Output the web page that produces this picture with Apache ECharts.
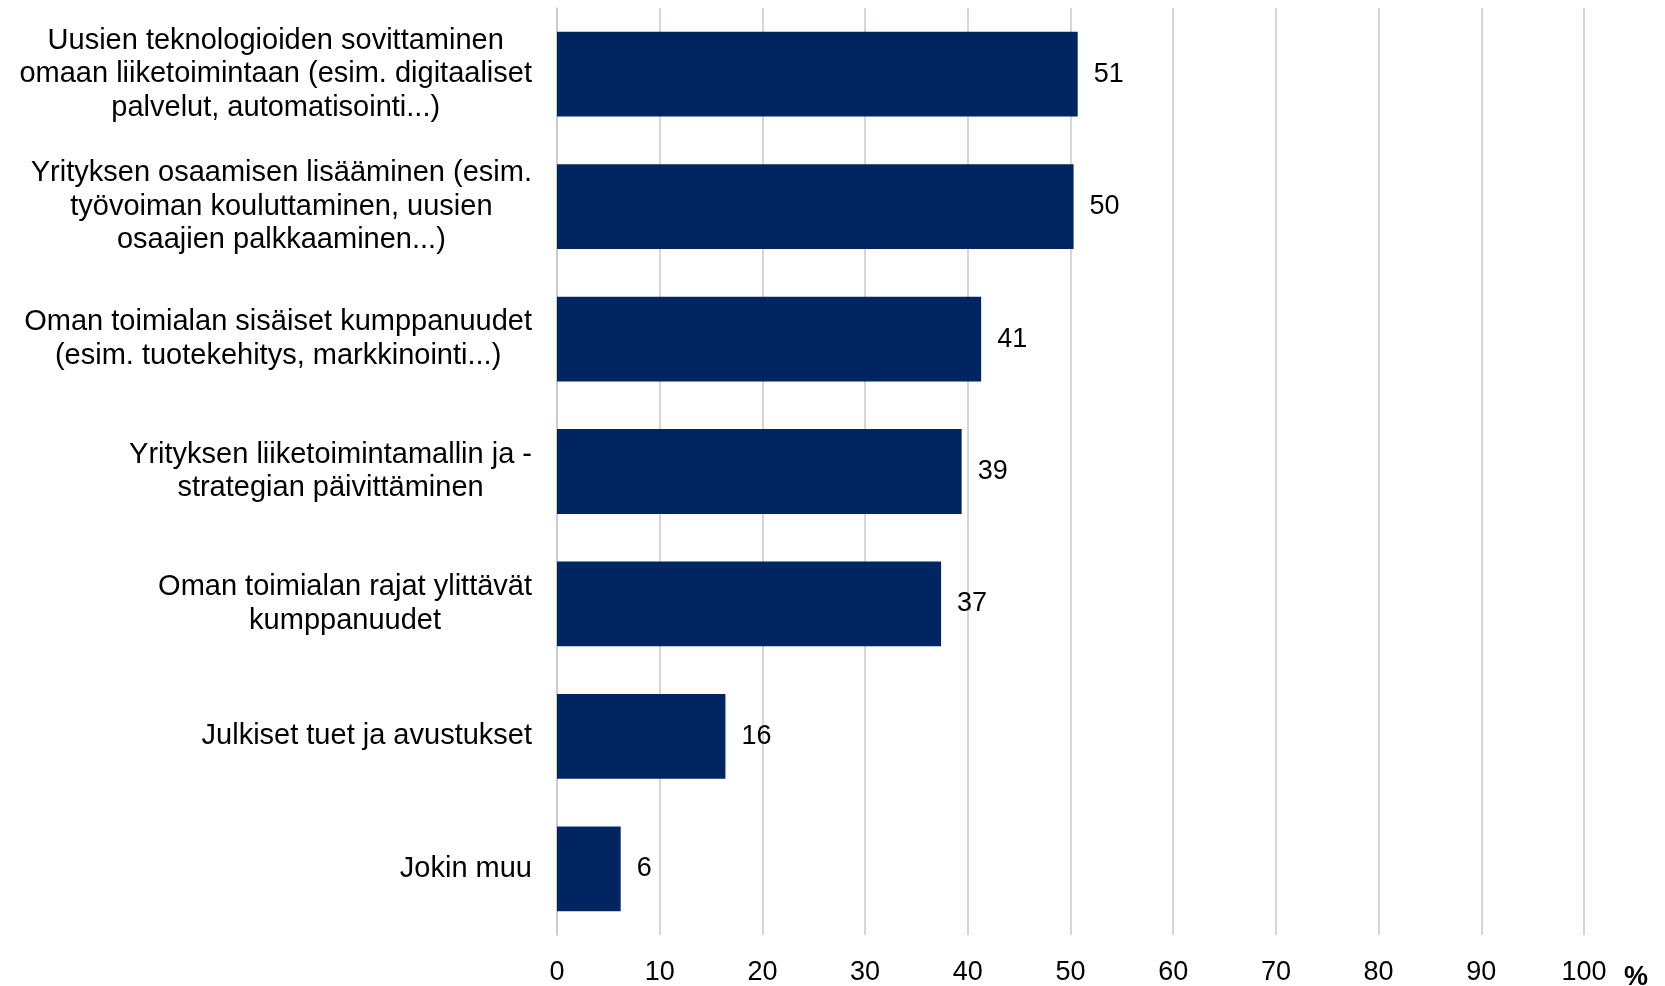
<!DOCTYPE html>
<html>
<head>
<meta charset="utf-8">
<script src="https://cdn.jsdelivr.net/npm/echarts@6/dist/echarts.min.js"></script>
<style>
html,body{margin:0;padding:0;background:#fff;}
#chart{width:1665px;height:986px;}
</style>
</head>
<body>
<div id="chart"></div>
<script>
const categories = [
  "Uusien teknologioiden sovittaminen\nomaan liiketoimintaan (esim. digitaaliset\npalvelut, automatisointi...)",
  "Yrityksen osaamisen lisääminen (esim.\ntyövoiman kouluttaminen, uusien\nosaajien palkkaaminen...)",
  "Oman toimialan sisäiset kumppanuudet\n(esim. tuotekehitys, markkinointi...)",
  "Yrityksen liiketoimintamallin ja -\nstrategian päivittäminen",
  "Oman toimialan rajat ylittävät\nkumppanuudet",
  "Julkiset tuet ja avustukset",
  "Jokin muu"
];
const values = [50.7, 50.3, 41.3, 39.4, 37.4, 16.4, 6.2];
const axisMin = 0, axisMax = 100, axisStep = 10;
const unitLabel = "%";

const FONT = "'Liberation Sans', Arial, sans-serif";
const chart = echarts.init(document.getElementById('chart'), null, {renderer: 'canvas'});
chart.setOption({
  animation: false,
  backgroundColor: '#ffffff',
  textStyle: {fontFamily: FONT},
  grid: {left: 557, right: 81, top: 8, bottom: 49.5, containLabel: false},
  xAxis: {
    type: 'value', min: axisMin, max: axisMax, interval: axisStep,
    axisLine: {show: false}, axisTick: {show: false},
    splitLine: {show: true, lineStyle: {color: '#c9c9c9', width: 1.5}},
    axisLabel: {color: '#000', fontSize: 27, fontFamily: FONT, margin: 24}
  },
  yAxis: {
    type: 'category', data: categories, inverse: true,
    axisLine: {show: true, lineStyle: {color: '#c9c9c9', width: 1.5}},
    axisTick: {show: false},
    axisLabel: {
      margin: 25, align: 'right', color: '#000', fontSize: 29, fontFamily: FONT, lineHeight: 33.5,
      formatter: function (v) { return v.split('\n').map(function (l) { return '{c|' + l + '}'; }).join('\n'); },
      rich: {c: {align: 'center', fontSize: 29, lineHeight: 33.5, color: '#000', fontFamily: FONT}}
    }
  },
  series: [{
    type: 'bar', data: values, barCategoryGap: '36%',
    itemStyle: {color: '#002561'},
    label: {
      show: true, position: 'right', distance: 16, color: '#000', fontSize: 27, fontFamily: FONT,
      formatter: function (p) { return Math.round(p.value); }
    }
  }],
  graphic: [{
    type: 'text', left: 1624, top: 964,
    style: {text: unitLabel, fontSize: 27, fontWeight: 'bold', fill: '#000', fontFamily: FONT}
  }]
});
</script>
</body>
</html>
